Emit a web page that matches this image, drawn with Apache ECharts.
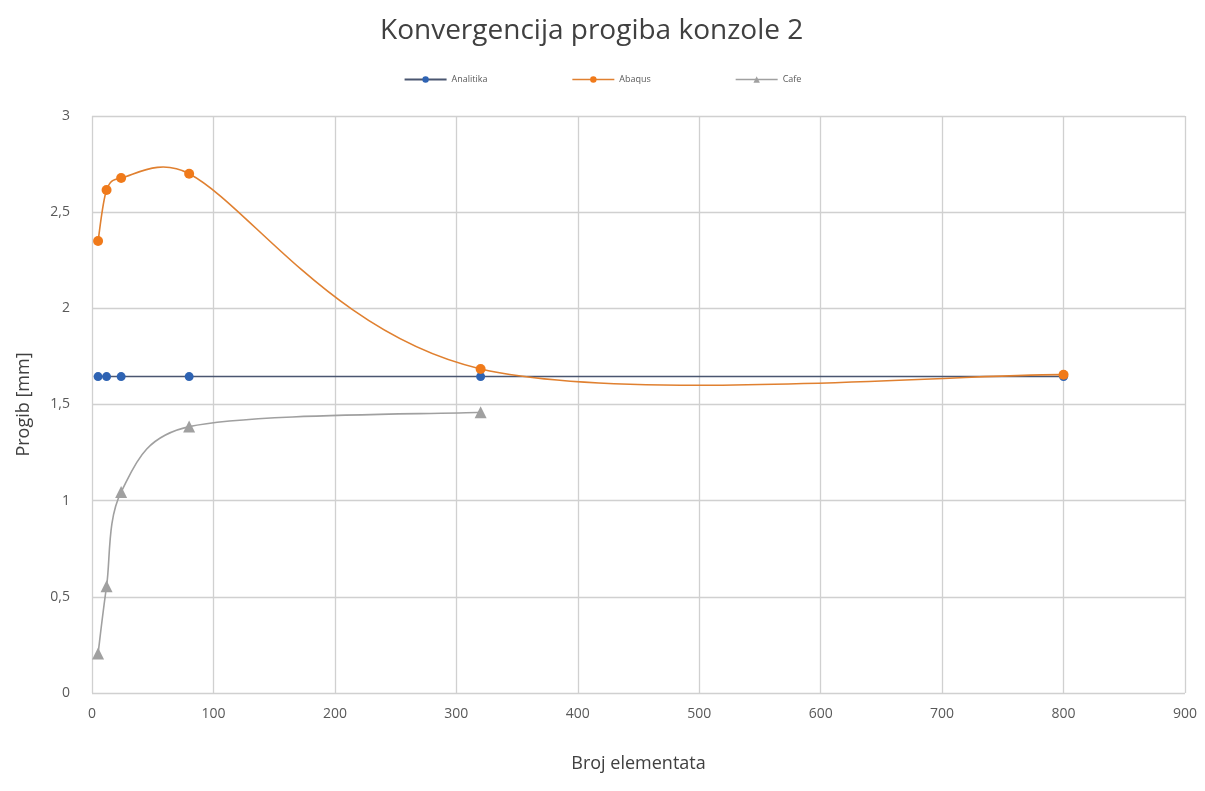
<!DOCTYPE html>
<html><head><meta charset="utf-8">
<script src="https://cdn.jsdelivr.net/npm/echarts@6/dist/echarts.min.js"></script>
<style>html,body{margin:0;padding:0;background:#fff}#c{width:1205px;height:791px}</style>
</head><body><div id="c"></div>
<script>
const titleText = 'Konvergencija progiba konzole 2';
const xName = 'Broj elementata';
const yName = 'Progib [mm]';
const analitikaX = [5, 12, 24, 80, 320, 800];
const analitikaY = [1.645, 1.645, 1.645, 1.645, 1.645, 1.645];
const abaqusX = [5, 12, 24, 80, 320, 800];
const abaqusY = [2.35, 2.615, 2.678, 2.70, 1.685, 1.655];
const cafeX = [5, 12, 24, 80, 320];
const cafeY = [0.205, 0.555, 1.045, 1.385, 1.46];

const zip = (xs, ys) => xs.map((x, i) => [x, ys[i]]);
const fmt = v => String(v).replace('.', ',');

// Excel-like smoothed line: Catmull-Rom (1/6) Bezier segments drawn in pixel space via axis scales
function splineRenderer(xs, ys, color, width) {
  return function (params, api) {
    const i = params.dataIndex;
    const n = xs.length;
    if (i >= n - 1) return null;
    const P = k => api.coord([xs[Math.max(0, Math.min(n - 1, k))], ys[Math.max(0, Math.min(n - 1, k))]]);
    const p0 = P(i - 1), p1 = P(i), p2 = P(i + 1), p3 = P(i + 2);
    const d12 = Math.hypot(p2[0] - p1[0], p2[1] - p1[1]);
    function handle(a, b) {
      let hx = (b[0] - a[0]) / 6, hy = (b[1] - a[1]) / 6;
      const len = Math.hypot(hx, hy);
      const cap = d12 / 2;
      if (len > cap && len > 0) { hx *= cap / len; hy *= cap / len; }
      return [hx, hy];
    }
    const h1 = handle(p0, p2), h2 = handle(p1, p3);
    return {
      type: 'bezierCurve',
      shape: { x1: p1[0], y1: p1[1], x2: p2[0], y2: p2[1],
        cpx1: p1[0] + h1[0], cpy1: p1[1] + h1[1], cpx2: p2[0] - h2[0], cpy2: p2[1] - h2[1] },
      style: { stroke: color, lineWidth: width, fill: null },
      silent: true
    };
  };
}

const chart = echarts.init(document.getElementById('c'));
chart.setOption({
  animation: false,
  backgroundColor: '#fff',
  title: { text: titleText, left: 375, top: 12,
    textStyle: { fontFamily: 'Open Sans', fontSize: 28, fontWeight: 'normal', color: '#404040' } },
  legend: { top: 70, left: 'center', itemGap: 84, itemWidth: 42, itemHeight: 8,
    textStyle: { fontFamily: 'Open Sans', fontSize: 9, color: '#595959' },
    data: [
      { name: 'Analitika' },
      { name: 'Abaqus', lineStyle: { opacity: 1, color: '#e08030', width: 1.6 } },
      { name: 'Cafe', lineStyle: { opacity: 1, color: '#a0a0a0', width: 1.6 } }
    ] },
  grid: { left: 92, right: 20, top: 116, bottom: 98, containLabel: false },
  xAxis: { type: 'value', min: 0, max: 900, interval: 100,
    name: xName, nameLocation: 'middle', nameGap: 62,
    nameTextStyle: { fontFamily: 'Open Sans', fontSize: 18, color: '#404040' },
    axisLine: { show: false }, axisTick: { show: false },
    axisLabel: { fontFamily: 'Open Sans', fontSize: 14, color: '#595959', margin: 14 },
    splitLine: { show: true, lineStyle: { color: '#d0d0d0', width: 1.3 } } },
  yAxis: { type: 'value', min: 0, max: 3, interval: 0.5,
    name: yName, nameLocation: 'middle', nameGap: 59,
    nameTextStyle: { fontFamily: 'Open Sans', fontSize: 18, color: '#404040' },
    axisLine: { show: false }, axisTick: { show: false },
    axisLabel: { fontFamily: 'Open Sans', fontSize: 14, color: '#595959', margin: 22, formatter: fmt },
    splitLine: { show: true, lineStyle: { color: '#d0d0d0', width: 1.3 } } },
  series: [
    { name: 'Analitika', type: 'line', data: zip(analitikaX, analitikaY),
      symbol: 'circle', symbolSize: 9, z: 2,
      itemStyle: { color: '#2e63b3' }, lineStyle: { color: '#4a5670', width: 1.5 } },
    { name: 'Abaqus curve', type: 'custom', coordinateSystem: 'cartesian2d', z: 3,
      data: zip(abaqusX, abaqusY), renderItem: splineRenderer(abaqusX, abaqusY, '#e08030', 1.6) },
    { name: 'Cafe curve', type: 'custom', coordinateSystem: 'cartesian2d', z: 2,
      data: zip(cafeX, cafeY), renderItem: splineRenderer(cafeX, cafeY, '#a0a0a0', 1.6) },
    { name: 'Abaqus', type: 'line', data: zip(abaqusX, abaqusY),
      symbol: 'circle', symbolSize: 10, z: 4,
      itemStyle: { color: '#f07a1a' }, lineStyle: { color: '#e08030', width: 1.6, opacity: 0 } },
    { name: 'Cafe', type: 'line', data: zip(cafeX, cafeY),
      symbol: 'triangle', symbolSize: 12, z: 4,
      itemStyle: { color: '#a0a0a0' }, lineStyle: { color: '#a0a0a0', width: 1.6, opacity: 0 } }
  ]
});
</script></body></html>
